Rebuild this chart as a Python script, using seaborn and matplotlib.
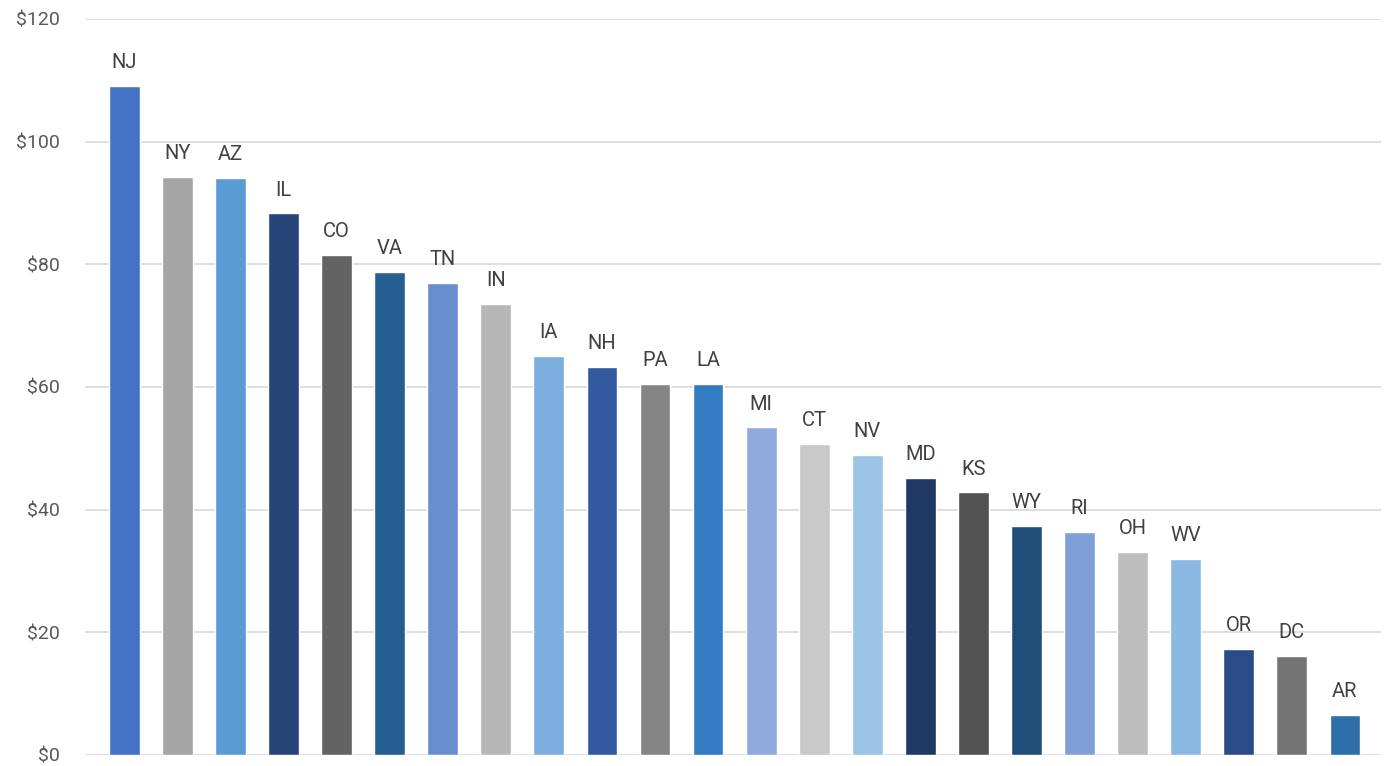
import matplotlib
matplotlib.use("Agg")
import matplotlib.pyplot as plt
import seaborn as sns
import pandas as pd

# State-level values, in dollars
states = ["NJ", "NY", "AZ", "IL", "CO", "VA", "TN", "IN", "IA", "NH", "PA", "LA",
          "MI", "CT", "NV", "MD", "KS", "WY", "RI", "OH", "WV", "OR", "DC", "AR"]
values = [109.1, 94.3, 94.1, 88.3, 81.5, 78.8, 77.0, 73.6, 65.0, 63.2, 60.5, 60.5,
          53.4, 50.7, 48.9, 45.2, 42.8, 37.4, 36.4, 33.1, 31.9, 17.3, 16.2, 6.5]
bar_colors = ["#4472C4", "#A5A5A5", "#5B9BD5", "#264478", "#636363", "#255E91",
              "#698ED0", "#B7B7B7", "#7CAFDD", "#335AA1", "#848484", "#327DC2",
              "#8FAADC", "#C9C9C9", "#9DC3E6", "#203864", "#525252", "#1F4E79",
              "#7F9FD6", "#BDBDBD", "#8CB9E2", "#2B4C88", "#747474", "#2E6EAB"]
y_ticks = [0, 20, 40, 60, 80, 100, 120]
y_tick_labels = ["$0", "$20", "$40", "$60", "$80", "$100", "$120"]

df = pd.DataFrame({"state": states, "value": values})

sns.set_theme(style="white")
plt.rcParams["font.family"] = ["Roboto", "DejaVu Sans"]

fig = plt.figure(figsize=(13.86, 7.66), dpi=100)
ax = fig.add_axes([0.0613, 0.0144, 0.9351, 0.9608])

sns.barplot(data=df, x="state", y="value", hue="state", palette=bar_colors,
            order=states, hue_order=states, legend=False, width=0.58,
            saturation=1, ax=ax)

# State labels above each bar
for i, (s, v) in enumerate(zip(states, values)):
    ax.annotate(s, xy=(i, v), xytext=(0, 10), textcoords="offset points",
                ha="center", va="bottom", fontsize=14.5, color="#404040")

ax.set_ylim(0, 120)
ax.set_xlim(-0.74, 23.68)
ax.set_yticks(y_ticks)
ax.set_yticklabels(y_tick_labels, fontsize=14, color="#595959")
ax.tick_params(axis="y", length=0, pad=18)
ax.set_xticks([])
ax.set_xlabel("")
ax.set_ylabel("")

ax.yaxis.grid(True, color="#D9D9D9", linewidth=1.2)
ax.set_axisbelow(True)
for side in ["top", "right", "left", "bottom"]:
    ax.spines[side].set_visible(False)

fig.savefig("out.png", dpi=100)
